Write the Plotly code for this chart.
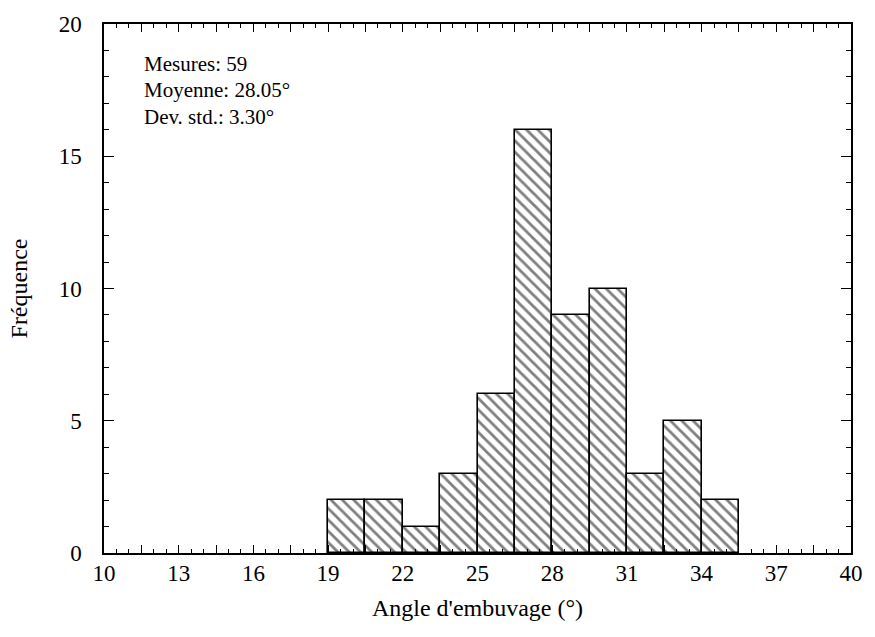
import plotly.graph_objects as go

# Histogram of measured wetting angles
bin_start = 19.0
bin_width = 1.5
counts = [2, 2, 1, 3, 6, 16, 9, 10, 3, 5, 2]

x_ticks = [10 + 1.5 * i for i in range(21)]
x_labels = [f"{v:g}" if (v - 10) % 3 == 0 else "" for v in x_ticks]
y_ticks = [0, 5, 10, 15, 20]

stats_lines = ["Mesures: 59", "Moyenne: 28.05°", "Dev. std.: 3.30°"]

centers = [bin_start + bin_width * (i + 0.5) for i in range(len(counts))]

FONT = "Liberation Serif, Times New Roman, serif"

fig = go.Figure()
fig.add_trace(go.Bar(
    x=centers,
    y=counts,
    width=bin_width,
    marker=dict(
        color="white",
        line=dict(color="black", width=1.6),
        pattern=dict(shape="\\", size=8, solidity=0.35, fgcolor="black", bgcolor="white"),
    ),
    showlegend=False,
))

axis_common = dict(
    showline=True, linecolor="black", linewidth=1.5,
    mirror="allticks", ticks="inside", tickcolor="black",
    showgrid=False, zeroline=False,
    tickfont=dict(family=FONT, size=23, color="black"),
)

fig.update_xaxes(
    range=[10, 40], tickmode="array", tickvals=x_ticks, ticktext=x_labels,
    ticklen=8, tickwidth=1.3, ticklabelstandoff=-1,
    minor=dict(dtick=0.5, tick0=10, ticks="inside", ticklen=4, tickcolor="black", tickwidth=1),
    title=dict(text="Angle d'embuvage (°)", font=dict(family=FONT, size=24, color="black"), standoff=14),
    **axis_common,
)
fig.update_yaxes(
    range=[0, 20], tickmode="array", tickvals=y_ticks,
    ticklen=10, tickwidth=1.3, ticklabelstandoff=16,
    minor=dict(dtick=1, tick0=0, ticks="inside", ticklen=5, tickcolor="black", tickwidth=1),
    title=dict(text="Fréquence", font=dict(family=FONT, size=24, color="black"), standoff=24),
    **axis_common,
)

# Summary statistics block, one line per annotation
for i, line in enumerate(stats_lines):
    fig.add_annotation(
        x=0.051, y=0.925 - i * 0.05, xref="paper", yref="paper",
        xanchor="left", yanchor="middle",
        text=line, showarrow=False,
        font=dict(family=FONT, size=21, color="black"),
    )

fig.update_layout(
    width=875, height=637,
    margin=dict(l=104, r=18, t=22, b=84),
    paper_bgcolor="white", plot_bgcolor="white",
    bargap=0,
)

fig.write_html("out.html")
